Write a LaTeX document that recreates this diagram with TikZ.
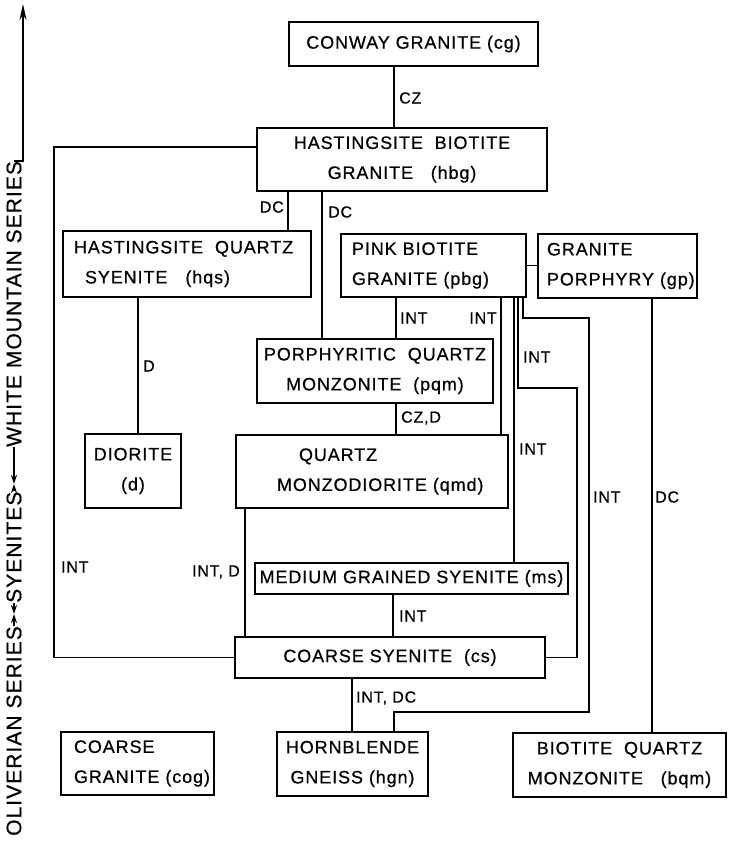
\documentclass[tikz,border=0pt]{standalone}
\usepackage{fontspec}
\setmainfont{Liberation Sans}[LetterSpace=5.0, FakeBold=0.6]
\usetikzlibrary{arrows.meta}

\newcommand{\rockfont}{\fontsize{18}{30}\selectfont}
\newcommand{\relfont}{\fontsize{16}{18}\selectfont}
\newcommand{\seriesfont}{\fontsize{21}{24}\selectfont}

\tikzset{
  rock/.style={draw, line width=2pt, inner sep=0pt, align=center, font=\rockfont},
  rockl/.style 2 args={rock, align=left, inner xsep=#1, text width=#2},
  rel/.style={font=\relfont, inner sep=0pt},
  link/.style={line width=1.5pt},
  series/.style={font=\seriesfont, rotate=90, inner sep=0pt},
  bound/.style={link, -{Stealth[length=9pt,width=6pt]}},
}

\begin{document}
\begin{tikzpicture}[x=1pt, y=-1pt]
\useasboundingbox (0,0) rectangle (729,841);

% rock units
\node[rock, minimum width=249, minimum height=44] (cg) at (413.5,44) {CONWAY GRANITE (cg)};
\node[rock, minimum width=290, minimum height=63] (hbg) at (402,159.5) {HASTINGSITE~~BIOTITE\\GRANITE~~~(hbg)};
\node[rockl={11}{226}, minimum height=66] (hqs) at (187,264) {HASTINGSITE~~QUARTZ\\\hspace*{11pt}SYENITE~~~(hqs)};
\node[rockl={11}{163}, minimum height=63] (pbg) at (433.5,265.5) {PINK~BIOTITE\\GRANITE~(pbg)};
\node[rockl={9}{141}, minimum height=64] (gp) at (617.5,266) {GRANITE\\PORPHYRY~(gp)};
\node[rock, minimum width=236, minimum height=64] (pqm) at (375,371) {PORPHYRITIC~~QUARTZ\\MONZONITE~~(pqm)};
\node[rockl={41}{190}, minimum height=73] (qmd) at (372,471.5) {\hspace*{22pt}QUARTZ\\MONZODIORITE~(qmd)};
\node[rock, minimum width=96, minimum height=74] (d) at (133,471) {DIORITE\\(d)};
\node[rock, minimum width=313, minimum height=31] (ms) at (411.5,578.5) {MEDIUM GRAINED SYENITE (ms)};
\node[rock, minimum width=310, minimum height=41] (cs) at (390,657.5) {COARSE~SYENITE~~(cs)};
\node[rockl={13}{127}, minimum height=63] (cog) at (137.5,763.5) {COARSE\\GRANITE~(cog)};
\node[rock, minimum width=151, minimum height=64] (hgn) at (352.5,764) {HORNBLENDE\\GNEISS~(hgn)};
\node[rock, minimum width=213, minimum height=64] (bqm) at (619.5,765) {BIOTITE~~QUARTZ\\MONZONITE~~~(bqm)};

% bends
\coordinate (j1) at (54,147);
\coordinate (j3) at (518,388);
\coordinate (j4) at (577,388);
\coordinate (j5) at (523,318);
\coordinate (j6) at (589,318);
\coordinate (j7) at (394,712);

% contacts
\draw[link] (cg.south -| 394,0) -- (hbg.north -| 394,0);
\draw[link] (hbg.west |- j1) -- (j1) |- (cs.west);
\draw[link] (hbg.south -| 288,0) -- (hqs.north -| 288,0);
\draw[link] (hbg.south -| 322,0) -- (pqm.north -| 322,0);
\draw[link] (hqs.south -| 138,0) -- (d.north -| 138,0);
\draw[link] (pbg.east) -- (gp.west |- pbg.east);
\draw[link] (pbg.south -| 396,0) -- (pqm.north -| 396,0);
\draw[link] (pbg.south -| 501,0) -- (qmd.north -| 501,0);
\draw[link] (pbg.south -| 514,0) -- (ms.north -| 514,0);
\draw[link] (pbg.south -| j3) -- (j3) -- (j4) |- (cs.east);
\draw[link] (pbg.south -| j5) -- (j5) -- (j6) |- (j7) -- (hgn.north -| j7);
\draw[link] (gp.south -| 652,0) -- (bqm.north -| 652,0);
\draw[link] (pqm.south -| 396,0) -- (qmd.north -| 396,0);
\draw[link] (qmd.south -| 245,0) -- (cs.north -| 245,0);
\draw[link] (ms.south -| 393,0) -- (cs.north -| 393,0);
\draw[link] (cs.south -| 352,0) -- (hgn.north -| 352,0);

% contact labels
\node[rel, anchor=west] (lcz) at (399,98) {CZ};
\node[rel, anchor=east] (ldc1) at (284,207) {DC};
\node[rel, anchor=west] (ldc2) at (328,212) {DC};
\node[rel, anchor=west] (ld) at (143,366) {D};
\node[rel, anchor=west] (lint1) at (400,318) {INT};
\node[rel, anchor=east] (lint2) at (497,318) {INT};
\node[rel, anchor=west] (lint3) at (523,357) {INT};
\node[rel, anchor=west] (lint4) at (519,449) {INT};
\node[rel, anchor=west] (lint5) at (593,497) {INT};
\node[rel, anchor=west] (ldc3) at (655,497) {DC};
\node[rel, anchor=west] (lczd) at (401,418) {CZ,D};
\node[rel, anchor=west] (lint6) at (61,567) {INT};
\node[rel, anchor=east] (lintd) at (240,572) {INT, D};
\node[rel, anchor=west] (lint7) at (399,616) {INT};
\node[rel, anchor=west] (lintdc) at (356,698) {INT, DC};

% series scale
\node[series, anchor=west] (wms) at (14,447) {WHITE MOUNTAIN SERIES};
\node[series, anchor=west] (sye) at (14,603) {SYENITES};
\node[series, anchor=west] (oli) at (14,836) {OLIVERIAN SERIES};
\coordinate (top) at (23,4);
\coordinate (m1) at (14,484);
\coordinate (m2) at (14,614);
\draw[link, -{Stealth[length=16pt,width=7pt]}] (wms.east) -- (wms.east -| top) -- (top);
\draw[bound] (wms.west) -- (m1);
\draw[bound] (sye.east) -- (m1);
\draw[bound] (sye.west) -- (m2);
\draw[bound] (oli.east) -- (m2);
\end{tikzpicture}
\end{document}
